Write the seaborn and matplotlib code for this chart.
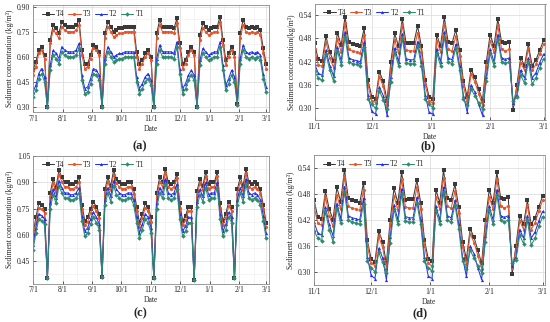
import numpy as np
import pandas as pd
import matplotlib
matplotlib.use("Agg")
import matplotlib.pyplot as plt
import matplotlib.dates as mdates
from matplotlib.ticker import MultipleLocator, AutoMinorLocator, FuncFormatter, FormatStrFormatter
import seaborn as sns

series_names = ["T4", "T3", "T2", "T1"]
colors = {"T4": "#3a3a3a", "T3": "#e4572e", "T2": "#2233ee", "T1": "#2e8b6e"}
markers = {"T4": "s", "T3": "o", "T2": "^", "T1": "D"}

# panel (a): every 3 days from 7/1 to 3/1
a_t4 = [0.52,0.57,0.64,0.66,0.61,0.30,0.70,0.79,0.77,0.74,0.81,0.79,0.78,0.78,0.78,0.79,0.82,0.64,0.56,0.56,
        0.61,0.67,0.66,0.63,0.30,0.74,0.81,0.78,0.75,0.76,0.77,0.77,0.78,0.78,0.78,0.78,0.63,0.56,0.58,0.62,
        0.64,0.60,0.30,0.74,0.82,0.78,0.78,0.78,0.78,0.77,0.83,0.68,0.56,0.58,0.63,0.66,0.63,0.30,0.73,0.80,
        0.78,0.76,0.77,0.78,0.78,0.84,0.70,0.58,0.62,0.66,0.62,0.32,0.74,0.82,0.78,0.77,0.78,0.77,0.78,0.76,
        0.65,0.56]
a_t3 = [0.49,0.54,0.62,0.64,0.59,0.30,0.68,0.76,0.74,0.71,0.78,0.76,0.75,0.75,0.75,0.76,0.79,0.61,0.53,0.54,
        0.59,0.65,0.64,0.61,0.30,0.71,0.78,0.75,0.72,0.73,0.74,0.74,0.75,0.75,0.75,0.75,0.60,0.53,0.56,0.60,
        0.62,0.58,0.30,0.71,0.79,0.75,0.75,0.75,0.75,0.74,0.80,0.65,0.53,0.56,0.61,0.64,0.61,0.30,0.70,0.77,
        0.75,0.73,0.74,0.75,0.75,0.81,0.67,0.55,0.60,0.64,0.60,0.31,0.71,0.79,0.75,0.74,0.75,0.74,0.75,0.73,
        0.62,0.53]
a_t2 = [0.39,0.43,0.50,0.53,0.48,0.30,0.55,0.64,0.62,0.59,0.66,0.64,0.63,0.63,0.63,0.64,0.68,0.49,0.41,0.42,
        0.47,0.53,0.52,0.49,0.30,0.59,0.66,0.63,0.60,0.61,0.62,0.62,0.63,0.63,0.63,0.63,0.48,0.41,0.44,0.48,
        0.50,0.46,0.30,0.59,0.67,0.63,0.63,0.63,0.63,0.62,0.69,0.53,0.41,0.44,0.49,0.52,0.49,0.30,0.58,0.65,
        0.63,0.61,0.62,0.63,0.63,0.69,0.55,0.43,0.47,0.52,0.48,0.32,0.59,0.67,0.63,0.62,0.63,0.62,0.63,0.61,
        0.50,0.42]
a_t1 = [0.36,0.40,0.47,0.50,0.45,0.30,0.52,0.61,0.59,0.56,0.63,0.61,0.60,0.60,0.60,0.61,0.65,0.46,0.38,0.39,
        0.44,0.50,0.49,0.46,0.30,0.56,0.63,0.60,0.57,0.58,0.59,0.59,0.60,0.60,0.60,0.60,0.45,0.38,0.41,0.45,
        0.47,0.43,0.30,0.56,0.64,0.60,0.60,0.60,0.60,0.59,0.66,0.50,0.38,0.41,0.46,0.49,0.46,0.30,0.55,0.62,
        0.60,0.58,0.59,0.60,0.60,0.66,0.52,0.40,0.44,0.49,0.45,0.31,0.56,0.64,0.60,0.59,0.60,0.59,0.60,0.58,
        0.47,0.39]

# panel (c): every 3 days from 7/1 to 3/1
c_t4 = [0.60,0.70,0.78,0.77,0.75,0.35,0.84,0.92,0.87,0.97,0.93,0.90,0.90,0.89,0.89,0.90,0.93,0.77,0.68,0.70,
        0.75,0.79,0.76,0.72,0.36,0.86,0.93,0.88,0.97,0.92,0.90,0.89,0.89,0.90,0.90,0.86,0.76,0.67,0.72,0.78,
        0.76,0.70,0.35,0.84,0.93,0.90,0.98,0.90,0.89,0.90,0.95,0.78,0.68,0.71,0.76,0.76,0.34,0.85,0.92,0.88,
        0.96,0.89,0.90,0.90,0.96,0.78,0.68,0.72,0.79,0.76,0.35,0.86,0.93,0.88,0.98,0.90,0.89,0.90,0.89,0.86,
        0.77,0.67]
c_t3 = [0.575,0.675,0.755,0.745,0.725,0.35,0.815,0.895,0.845,0.945,0.905,0.875,0.875,0.865,0.865,0.875,0.905,0.745,0.655,0.675,
        0.725,0.765,0.735,0.695,0.355,0.835,0.905,0.855,0.945,0.895,0.875,0.865,0.865,0.875,0.875,0.835,0.735,0.645,0.695,0.755,
        0.735,0.675,0.35,0.815,0.905,0.875,0.955,0.875,0.865,0.875,0.925,0.755,0.655,0.685,0.735,0.735,0.34,0.825,0.895,0.855,
        0.935,0.865,0.875,0.875,0.935,0.755,0.655,0.695,0.765,0.735,0.35,0.835,0.905,0.855,0.955,0.875,0.865,0.875,0.865,0.835,
        0.745,0.645]
c_t2 = [0.54,0.64,0.72,0.71,0.69,0.35,0.78,0.86,0.81,0.91,0.87,0.84,0.84,0.83,0.83,0.84,0.87,0.71,0.62,0.64,
        0.69,0.73,0.70,0.66,0.36,0.80,0.87,0.82,0.91,0.86,0.84,0.83,0.83,0.84,0.84,0.80,0.70,0.61,0.66,0.72,
        0.70,0.64,0.35,0.78,0.87,0.84,0.92,0.84,0.83,0.84,0.89,0.72,0.62,0.65,0.70,0.70,0.34,0.79,0.86,0.82,
        0.90,0.83,0.84,0.84,0.90,0.72,0.62,0.66,0.73,0.70,0.35,0.80,0.87,0.82,0.92,0.84,0.83,0.84,0.83,0.80,
        0.71,0.61]
c_t1 = [0.51,0.61,0.69,0.68,0.66,0.35,0.75,0.83,0.78,0.88,0.84,0.81,0.81,0.80,0.80,0.81,0.84,0.68,0.59,0.61,
        0.66,0.70,0.67,0.63,0.36,0.77,0.84,0.79,0.88,0.83,0.81,0.80,0.80,0.81,0.81,0.77,0.67,0.58,0.63,0.69,
        0.67,0.61,0.35,0.75,0.84,0.81,0.89,0.81,0.80,0.81,0.86,0.69,0.59,0.62,0.67,0.67,0.34,0.76,0.83,0.79,
        0.87,0.80,0.81,0.81,0.87,0.69,0.59,0.63,0.70,0.67,0.35,0.77,0.84,0.79,0.89,0.81,0.80,0.81,0.80,0.77,
        0.68,0.58]

# panels (b) and (d): every 2 days from 11/1 to 3/1
b_t4 = [0.467,0.426,0.422,0.486,0.445,0.421,0.495,0.462,0.536,0.470,0.466,0.463,0.460,0.506,0.373,0.330,
        0.324,0.394,0.370,0.320,0.420,0.493,0.460,0.530,0.467,0.468,0.468,0.512,0.460,0.373,0.330,0.325,
        0.490,0.460,0.535,0.470,0.467,0.502,0.450,0.370,0.330,0.400,0.380,0.350,0.320,0.420,0.490,0.460,
        0.530,0.470,0.468,0.472,0.295,0.360,0.430,0.410,0.465,0.410,0.425,0.450,0.475]
b_t3 = [0.452,0.412,0.408,0.472,0.430,0.405,0.478,0.445,0.520,0.452,0.447,0.445,0.442,0.490,0.360,0.320,
        0.315,0.382,0.357,0.308,0.405,0.476,0.443,0.514,0.450,0.448,0.448,0.495,0.445,0.360,0.320,0.313,
        0.474,0.445,0.518,0.452,0.447,0.486,0.435,0.358,0.318,0.388,0.368,0.338,0.308,0.405,0.474,0.445,
        0.514,0.452,0.448,0.452,0.310,0.350,0.418,0.398,0.455,0.398,0.413,0.440,0.465]
b_t2 = [0.415,0.390,0.385,0.450,0.410,0.383,0.458,0.422,0.497,0.430,0.425,0.423,0.420,0.470,0.335,0.292,
        0.285,0.355,0.333,0.282,0.380,0.455,0.420,0.492,0.428,0.425,0.425,0.472,0.420,0.335,0.290,0.285,
        0.452,0.420,0.496,0.430,0.425,0.465,0.410,0.333,0.290,0.360,0.342,0.310,0.282,0.382,0.452,0.420,
        0.490,0.430,0.426,0.430,0.315,0.335,0.398,0.378,0.430,0.378,0.392,0.418,0.440]
b_t1 = [0.395,0.378,0.372,0.440,0.398,0.370,0.448,0.412,0.485,0.420,0.415,0.413,0.410,0.458,0.325,0.310,
        0.300,0.345,0.322,0.298,0.368,0.445,0.410,0.480,0.418,0.415,0.415,0.460,0.410,0.325,0.310,0.302,
        0.442,0.410,0.484,0.420,0.415,0.455,0.400,0.325,0.308,0.350,0.332,0.315,0.298,0.370,0.442,0.410,
        0.478,0.420,0.416,0.420,0.320,0.328,0.385,0.365,0.420,0.362,0.378,0.405,0.428]


def long_frame(start, step, t4, t3, t2, t1):
    dates = pd.date_range(start, periods=len(t4), freq=step)
    parts = []
    for name, vals in zip(series_names, [t4, t3, t2, t1]):
        parts.append(pd.DataFrame({"date": dates, "value": vals, "series": name}))
    return pd.concat(parts, ignore_index=True)


df_a = long_frame("2018-07-01", "3D", a_t4, a_t3, a_t2, a_t1)
df_c = long_frame("2018-07-01", "3D", c_t4, c_t3, c_t2, c_t1)
df_b = long_frame("2018-11-01", "2D", b_t4, b_t3, b_t2, b_t1)

sns.set_style("ticks")
plt.rcParams["font.family"] = ["Liberation Serif", "DejaVu Serif"]

W, H = 550, 322
fig = plt.figure(figsize=(W / 100, H / 100), dpi=100)


def px_rect(left, top, right, bottom):
    return [left / W, 1 - bottom / H, (right - left) / W, (bottom - top) / H]


def date_fmt(v, pos):
    d = mdates.num2date(v)
    return f"{d.month}/{d.day}"


def draw(rect, df, xlim, ylim, ystep, ylabel):
    ax = fig.add_axes(px_rect(*rect))
    sns.lineplot(data=df, x="date", y="value", hue="series", style="series",
                 hue_order=series_names, style_order=series_names,
                 palette=colors, markers=markers, dashes=False,
                 markersize=2.3, linewidth=0.75, markeredgewidth=0, ax=ax)
    ax.set_xlim(pd.Timestamp(xlim[0]), pd.Timestamp(xlim[1]))
    ax.set_ylim(*ylim)
    ax.xaxis.set_major_locator(mdates.MonthLocator(bymonthday=1))
    ax.xaxis.set_minor_locator(mdates.MonthLocator(bymonthday=16))
    ax.xaxis.set_major_formatter(FuncFormatter(date_fmt))
    ax.yaxis.set_major_locator(MultipleLocator(ystep))
    ax.yaxis.set_minor_locator(AutoMinorLocator(2))
    ax.yaxis.set_major_formatter(FormatStrFormatter("%.2f"))
    ax.grid(which="major", color="#d9d9d9", linewidth=0.5)
    ax.grid(which="minor", color="#ececec", linewidth=0.4)
    ax.set_axisbelow(True)
    ax.tick_params(which="major", direction="in", length=2, width=0.5, labelsize=5.5, pad=2, colors="#222222")
    ax.tick_params(which="minor", length=0)
    for s in ax.spines.values():
        s.set_color("#8a8a8a")
        s.set_linewidth(0.6)
    ax.set_xlabel("Date", fontsize=5.5, labelpad=1.5)
    ax.set_ylabel(ylabel, fontsize=5.5, labelpad=2)
    ax.get_legend().remove()
    lines = ax.get_lines()[:4]
    ax.legend(lines, series_names, ncol=4, loc="upper left", frameon=False,
              fontsize=5.5, handlelength=1.6, columnspacing=0.5, handletextpad=0.25,
              borderaxespad=0.3, bbox_to_anchor=(0.015, 1.0))
    return ax


draw((33, 5, 269, 112), df_a, ("2018-07-01", "2019-03-04"), (0.27, 0.91), 0.15,
     "Sediment concentration (kg/m³)")
draw((314.5, 3.5, 545.5, 120), df_b, ("2018-11-01", "2019-03-02"), (0.27, 0.57), 0.06,
     "Sediment concentration(kg/m³)")
draw((33, 155.5, 269, 283.5), df_c, ("2018-07-01", "2019-03-04"), (0.32, 1.055), 0.15,
     "Sediment concentration (kg/m³)")
draw((314, 155, 544.5, 285), df_b, ("2018-11-01", "2019-03-02"), (0.27, 0.57), 0.06,
     "Sediment concentration (kg/m³)")

for tag, x, y in [("(a)", 140, 146), ("(b)", 428, 146), ("(c)", 140, 313), ("(d)", 420, 313)]:
    fig.text(x / W, 1 - y / H, tag, ha="center", va="center", fontsize=9, fontweight="bold")

fig.savefig("out.png", dpi=100)
